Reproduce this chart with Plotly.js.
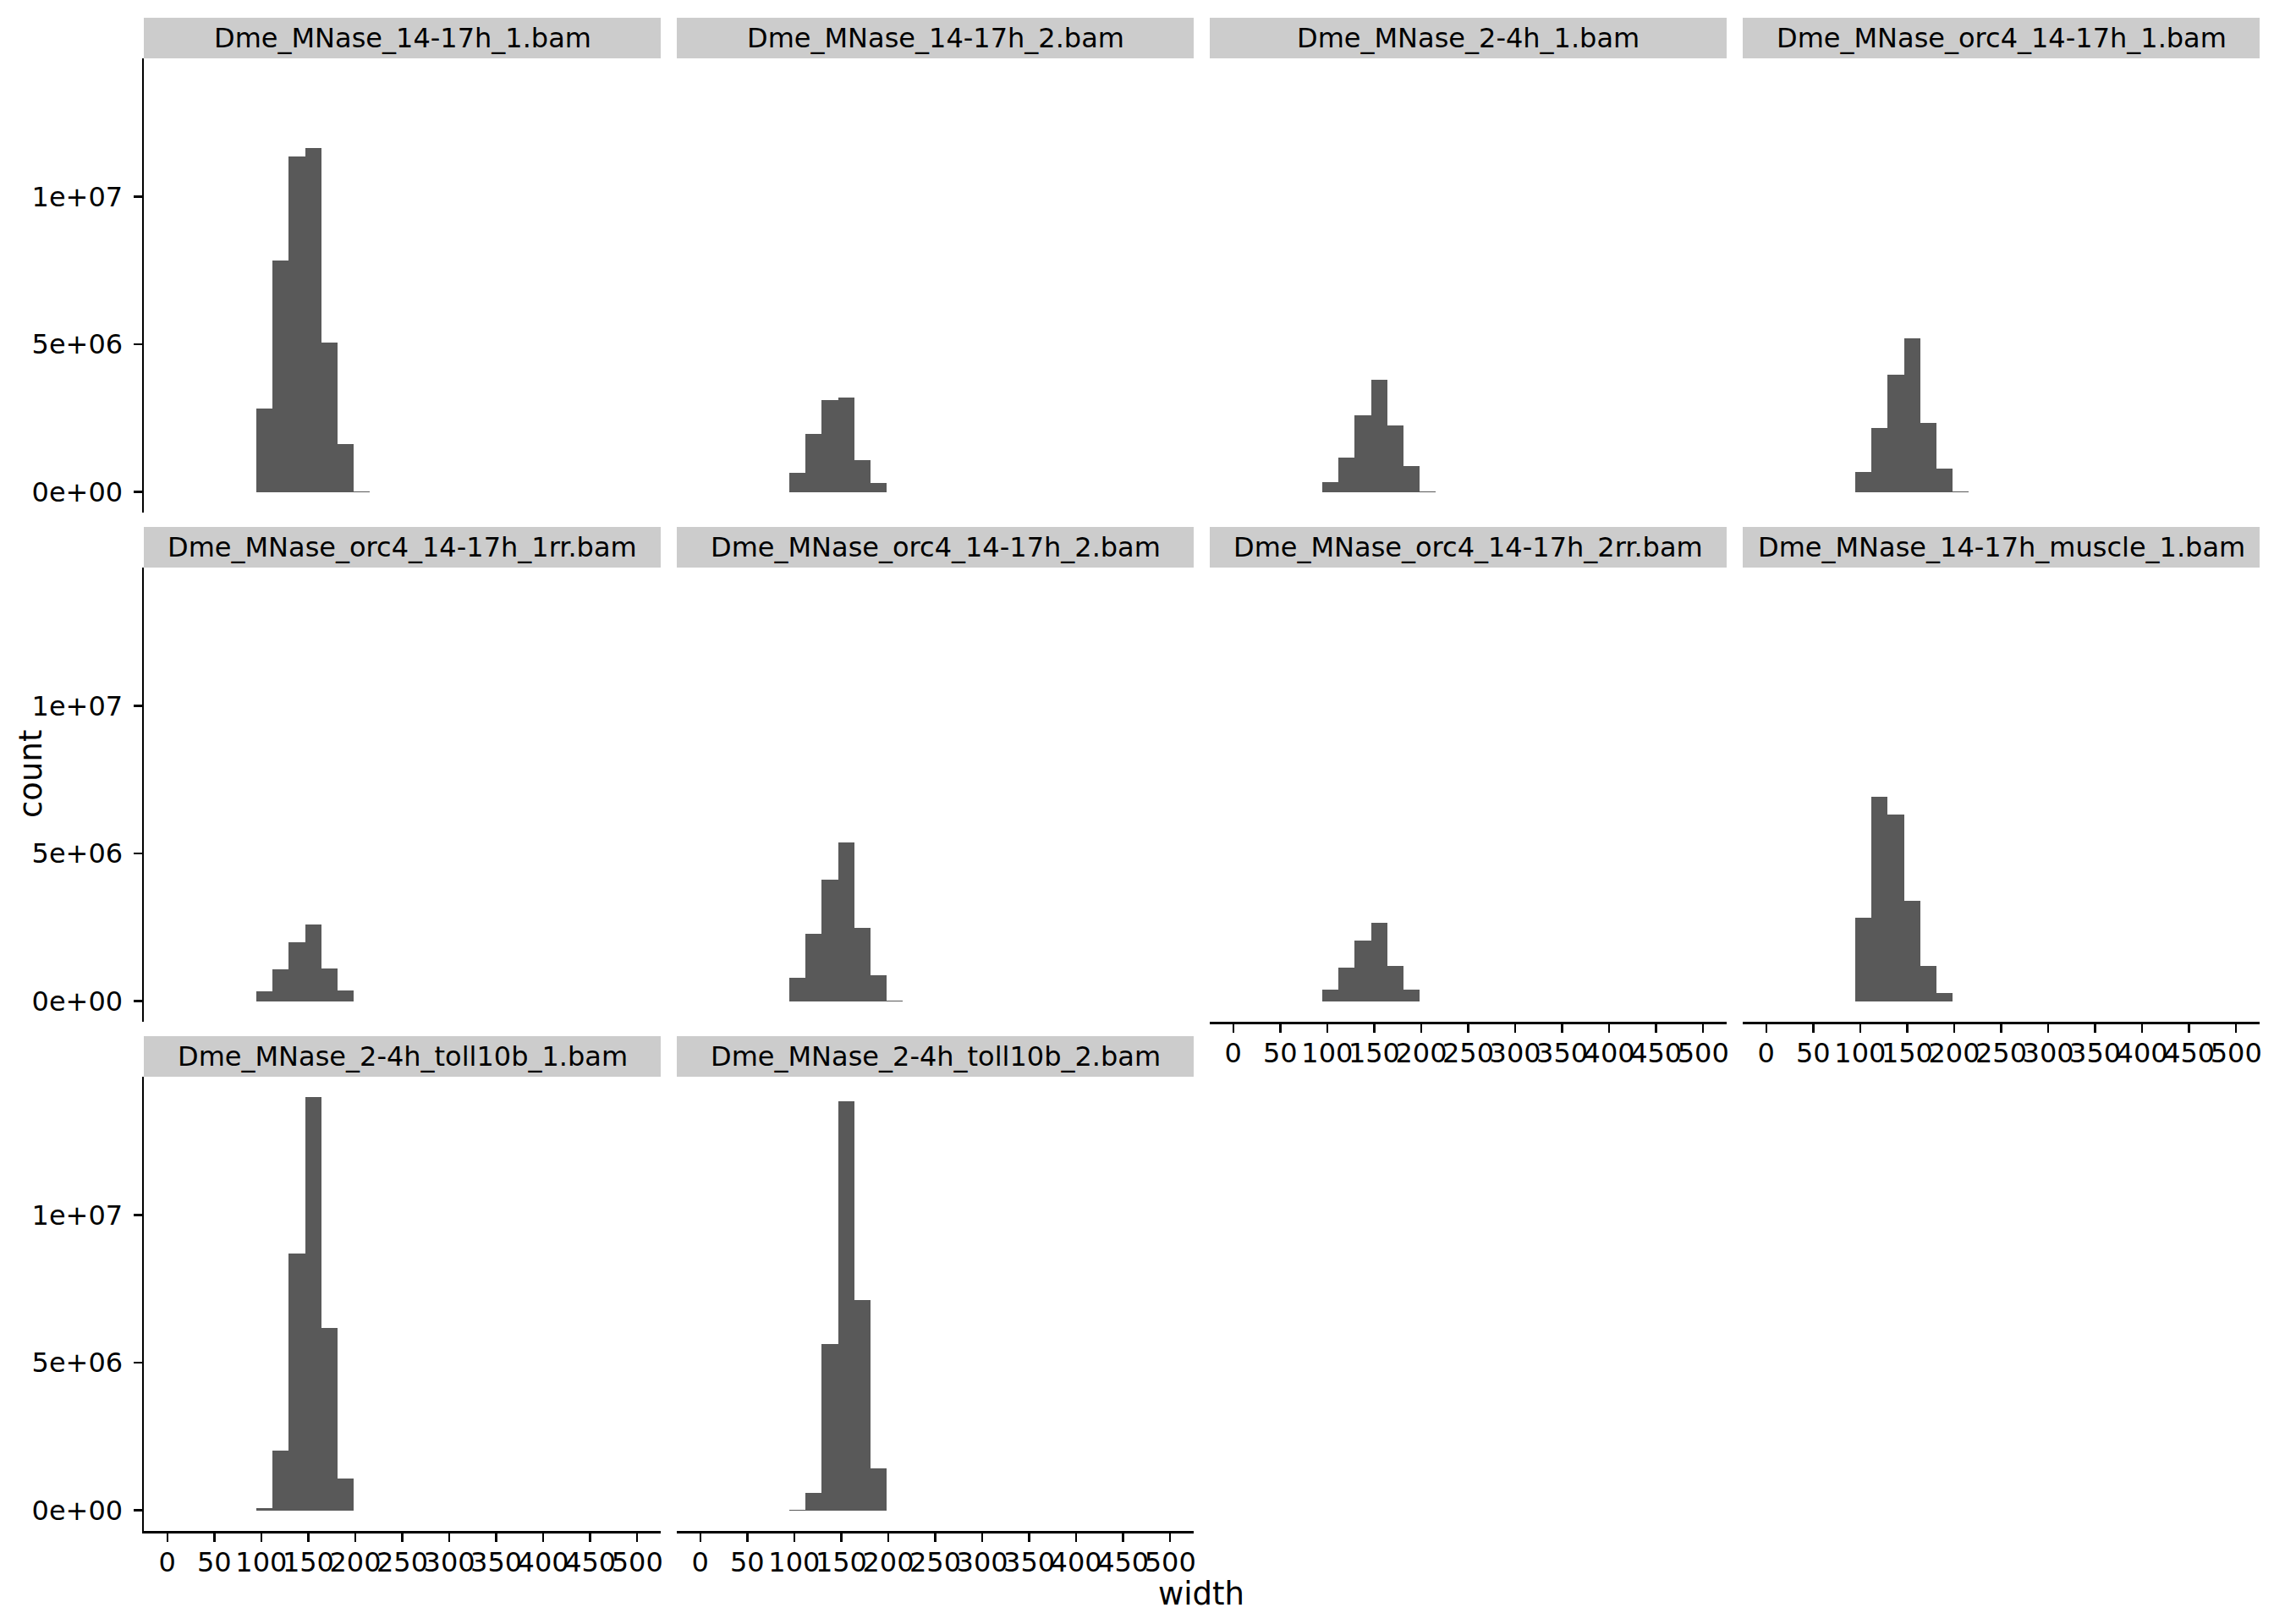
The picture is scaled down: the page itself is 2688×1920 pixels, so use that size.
<!DOCTYPE html>
<html>
<head>
<meta charset="utf-8">
<script src="https://cdn.plot.ly/plotly-3.0.1.min.js"></script>
<style>html,body{margin:0;padding:0;background:#fff;}#chart{width:2688px;height:1920px;}</style>
</head>
<body>
<div id="chart"></div>
<script>
// ---- data ----
const panelNames = [
  "Dme_MNase_14-17h_1.bam",
  "Dme_MNase_14-17h_2.bam",
  "Dme_MNase_2-4h_1.bam",
  "Dme_MNase_orc4_14-17h_1.bam",
  "Dme_MNase_orc4_14-17h_1rr.bam",
  "Dme_MNase_orc4_14-17h_2.bam",
  "Dme_MNase_orc4_14-17h_2rr.bam",
  "Dme_MNase_14-17h_muscle_1.bam",
  "Dme_MNase_2-4h_toll10b_1.bam",
  "Dme_MNase_2-4h_toll10b_2.bam"
];
// histogram bin centers (width) and bin width
const binCenters = [103.45, 120.69, 137.93, 155.17, 172.41, 189.66, 206.90];
const binWidth = 17.24;
// counts per panel, one value per bin
const counts_14_17h_1      = [2810000, 7840000, 11360000, 11650000, 5050000, 1630000, 30000];
const counts_14_17h_2      = [650000, 1960000, 3100000, 3190000, 1080000, 310000, 0];
const counts_2_4h_1        = [340000, 1170000, 2590000, 3790000, 2250000, 880000, 30000];
const counts_orc4_1        = [680000, 2160000, 3980000, 5210000, 2330000, 800000, 30000];
const counts_orc4_1rr      = [340000, 1080000, 1980000, 2580000, 1110000, 360000, 0];
const counts_orc4_2        = [790000, 2270000, 4120000, 5370000, 2470000, 870000, 20000];
const counts_orc4_2rr      = [390000, 1130000, 2040000, 2640000, 1190000, 390000, 0];
const counts_muscle_1      = [2810000, 6910000, 6310000, 3410000, 1190000, 280000, 0];
const counts_toll10b_1     = [80000, 2030000, 8690000, 13980000, 6180000, 1090000, 0];
const counts_toll10b_2     = [30000, 600000, 5620000, 13840000, 7110000, 1430000, 0];
const panelCounts = [counts_14_17h_1, counts_14_17h_2, counts_2_4h_1, counts_orc4_1,
  counts_orc4_1rr, counts_orc4_2, counts_orc4_2rr, counts_muscle_1,
  counts_toll10b_1, counts_toll10b_2];

const xTickVals = [0, 50, 100, 150, 200, 250, 300, 350, 400, 450, 500];
const yTickVals = [0, 5000000, 10000000];
const yTickText = ["0e+00", "5e+06", "1e+07"];

// ---- layout geometry (pixels) ----
const W = 2688, H = 1920;
const cols = [[170, 781], [800, 1411], [1430, 2041], [2060, 2671]];
const rows = [ {s0: 21, s1: 69, p1: 606}, {s0: 623, s1: 671, p1: 1208}, {s0: 1225, s1: 1273, p1: 1810} ];
const FONT = "DejaVu Sans, Liberation Sans, sans-serif";
const nCols = 4, nPanels = panelNames.length;

const traces = [];
const layout = {
  width: W, height: H,
  margin: {l: 0, r: 0, t: 0, b: 0, pad: 0},
  paper_bgcolor: "#ffffff", plot_bgcolor: "#ffffff",
  showlegend: false, bargap: 0,
  font: {family: FONT, size: 32, color: "#000000"},
  shapes: [], annotations: []
};

for (let i = 0; i < nPanels; i++) {
  const r = Math.floor(i / nCols), c = i % nCols;
  const col = cols[c], row = rows[r];
  const idx = i + 1;
  const xa = "x" + (idx === 1 ? "" : idx), ya = "y" + (idx === 1 ? "" : idx);
  const bottomPanel = (i + nCols >= nPanels);
  const leftPanel = (c === 0);

  traces.push({
    type: "bar", x: binCenters, y: panelCounts[i], width: binWidth,
    xaxis: xa, yaxis: ya,
    marker: {color: "#595959", line: {width: 0}},
    hoverinfo: "x+y"
  });

  layout["xaxis" + (idx === 1 ? "" : idx)] = {
    domain: [col[0] / W, col[1] / W], anchor: ya,
    range: [-25, 525], showgrid: false, zeroline: false,
    showline: bottomPanel, linecolor: "#000000", linewidth: 2.5,
    ticks: bottomPanel ? "outside" : "", ticklen: 10, tickwidth: 2.5, tickcolor: "#000000",
    tickmode: "array", tickvals: xTickVals, ticktext: xTickVals.map(String),
    showticklabels: bottomPanel, tickangle: 0, ticklabelstandoff: -3,
    tickfont: {family: FONT, size: 32, color: "#000000"}
  };
  layout["yaxis" + (idx === 1 ? "" : idx)] = {
    domain: [1 - row.p1 / H, 1 - row.s1 / H], anchor: xa,
    range: [-700000, 14680000], showgrid: false, zeroline: false,
    showline: leftPanel, linecolor: "#000000", linewidth: 2.5,
    ticks: leftPanel ? "outside" : "", ticklen: 10, tickwidth: 2.5, tickcolor: "#000000",
    tickmode: "array", tickvals: yTickVals, ticktext: yTickText,
    showticklabels: leftPanel, ticklabelstandoff: 6,
    tickfont: {family: FONT, size: 32, color: "#000000"}
  };

  // strip
  layout.shapes.push({
    type: "rect", xref: "paper", yref: "paper",
    x0: col[0] / W, x1: col[1] / W, y0: 1 - row.s1 / H, y1: 1 - row.s0 / H,
    fillcolor: "#CCCCCC", line: {width: 0}, layer: "below"
  });
  layout.annotations.push({
    xref: "paper", yref: "paper",
    x: (col[0] + col[1]) / 2 / W, y: 1 - (row.s0 + row.s1) / 2 / H,
    text: panelNames[i], showarrow: false, xanchor: "center", yanchor: "middle",
    font: {family: FONT, size: 32, color: "#000000"}
  });
}

// axis titles
layout.annotations.push({
  xref: "paper", yref: "paper", x: 1420 / W, y: 1 - 1884 / H,
  text: "width", showarrow: false, xanchor: "center", yanchor: "middle",
  font: {family: FONT, size: 37, color: "#000000"}
});
layout.annotations.push({
  xref: "paper", yref: "paper", x: 36 / W, y: 1 - 915 / H,
  text: "count", showarrow: false, xanchor: "center", yanchor: "middle", textangle: -90,
  font: {family: FONT, size: 37, color: "#000000"}
});

Plotly.newPlot("chart", traces, layout, {staticPlot: true, displayModeBar: false});
</script>
</body>
</html>
